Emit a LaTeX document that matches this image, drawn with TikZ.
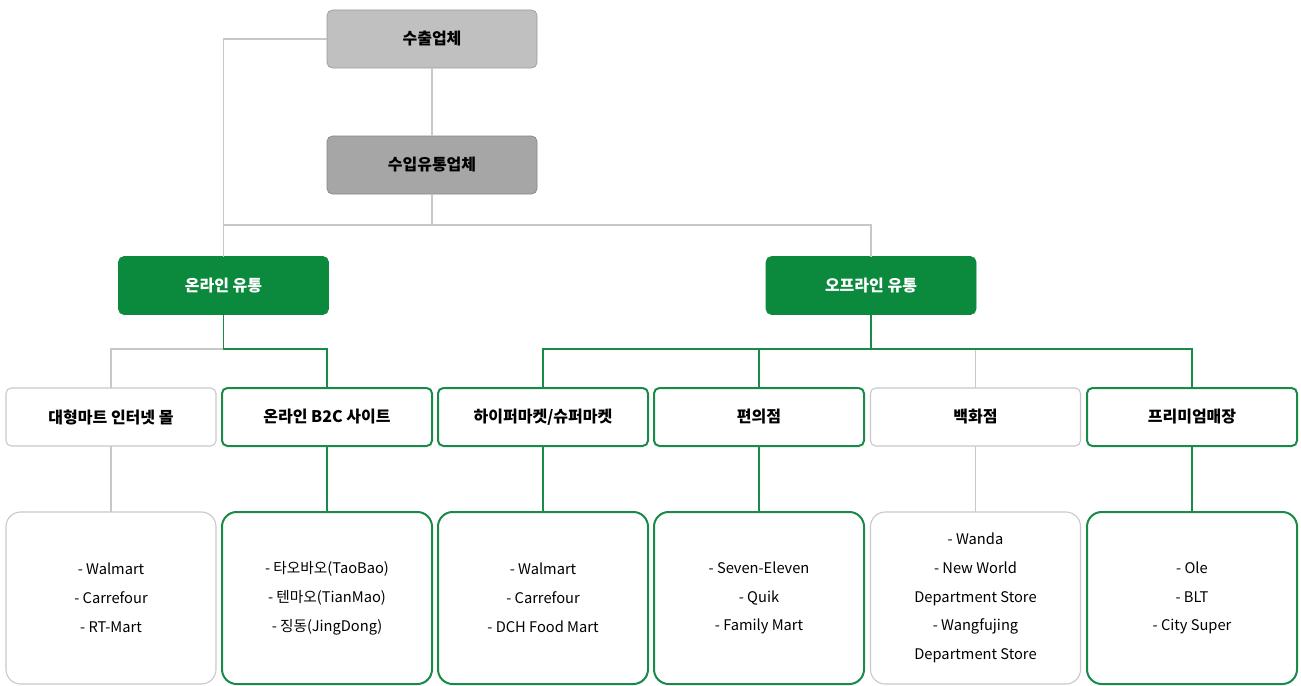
\documentclass[tikz,border=0pt]{standalone}
\usepackage{fontspec}
\setmainfont{Noto Sans CJK KR}
\definecolor{gfill}{HTML}{0B8A3E}
\definecolor{gline}{HTML}{1A8A48}
\definecolor{lgray}{HTML}{C0C0C0}
\definecolor{mgray}{HTML}{A6A6A6}
\definecolor{cgray}{HTML}{C8C8C8}
\tikzset{
  box/.style={rounded corners=4pt, inner sep=0pt, outer sep=0pt,
    minimum width=157.5pt, minimum height=43.5pt, font=\fontsize{12}{14}\selectfont\bfseries, align=center},
  topbox/.style={box, fill=#1, draw=#1!80!black, line width=0.5pt},
  grnbox/.style={box, fill=gfill, draw=gfill, text=white},
  gbox/.style={box, fill=white, draw=gline, line width=1.5pt},
  wbox/.style={box, fill=white, draw=cgray, line width=0.8pt},
  listbox/.style={rounded corners=11pt, inner sep=0pt, outer sep=0pt,
    minimum width=157.5pt, minimum height=129pt, align=center,
    font=\fontsize{11}{21.6}\selectfont},
  glist/.style={listbox, fill=white, draw=gline, line width=1.5pt},
  wlist/.style={listbox, fill=white, draw=cgray, line width=0.8pt},
  grayline/.style={draw=cgray, line width=1pt},
  greenline/.style={draw=gline, line width=1.3pt},
}
\begin{document}
\begin{tikzpicture}[x=0.75pt,y=-0.75pt]
\useasboundingbox (0,0) rectangle (1301,685);
\fill[white] (0,0) rectangle (1301,685);

% coordinates for junctions
\coordinate (j1) at (432,225);
\coordinate (jL) at (223.5,225);
\coordinate (onj) at (223.5,349);
\coordinate (offj) at (871,349);

% top nodes
\node[topbox=lgray] (exp) at (432,39) {수출업체};
\node[topbox=mgray] (imp) at (432,165) {수입유통업체};
\node[grnbox] (on) at (223.5,285.5) {온라인 유통};
\node[grnbox] (off) at (871,285.5) {오프라인 유통};

% level 2
\node[wbox] (mart) at (111,417) {대형마트 인터넷 몰};
\node[gbox] (b2c) at (327,417) {온라인 B2C 사이트};
\node[gbox] (hyper) at (543,417) {하이퍼마켓/슈퍼마켓};
\node[gbox] (conv) at (759,417) {편의점};
\node[wbox] (dept) at (975.5,417) {백화점};
\node[gbox] (prem) at (1192,417) {프리미엄매장};

% level 3
\node[wlist] (martL) at (111,598) {- Walmart\\- Carrefour\\- RT-Mart};
\node[glist] (b2cL) at (327,598) {- 타오바오(TaoBao)\\- 텐마오(TianMao)\\- 징동(JingDong)};
\node[glist] (hyperL) at (543,598) {- Walmart\\- Carrefour\\- DCH Food Mart};
\node[glist] (convL) at (759,598) {- Seven-Eleven\\- Quik\\- Family Mart};
\node[wlist] (deptL) at (975.5,598) {- Wanda\\- New World\\Department Store\\- Wangfujing\\Department Store};
\node[glist] (premL) at (1192,598) {- Ole\\- BLT\\- City Super};

% gray connectors
\draw[grayline] (exp.west) -| (on.north);
\draw[grayline] (exp.south) -- (imp.north);
\draw[grayline] (imp.south) -- (j1);
\draw[grayline] (jL) -| (off.north);
\draw[grayline] (onj) -| (mart.north);
\draw[grayline] (dept.north) -- (dept.north |- offj);
\draw[grayline] (mart.south) -- (martL.north);
\draw[grayline] (dept.south) -- (deptL.north);

% green connectors
\draw[greenline] (on.south) -- (onj) -| (b2c.north);
\draw[greenline] (off.south) -- (offj);
\draw[greenline] (hyper.north) |- (offj) -| (prem.north);
\draw[greenline] (conv.north) -- (conv.north |- offj);
\draw[greenline] (b2c.south) -- (b2cL.north);
\draw[greenline] (hyper.south) -- (hyperL.north);
\draw[greenline] (conv.south) -- (convL.north);
\draw[greenline] (prem.south) -- (premL.north);
\end{tikzpicture}
\end{document}
